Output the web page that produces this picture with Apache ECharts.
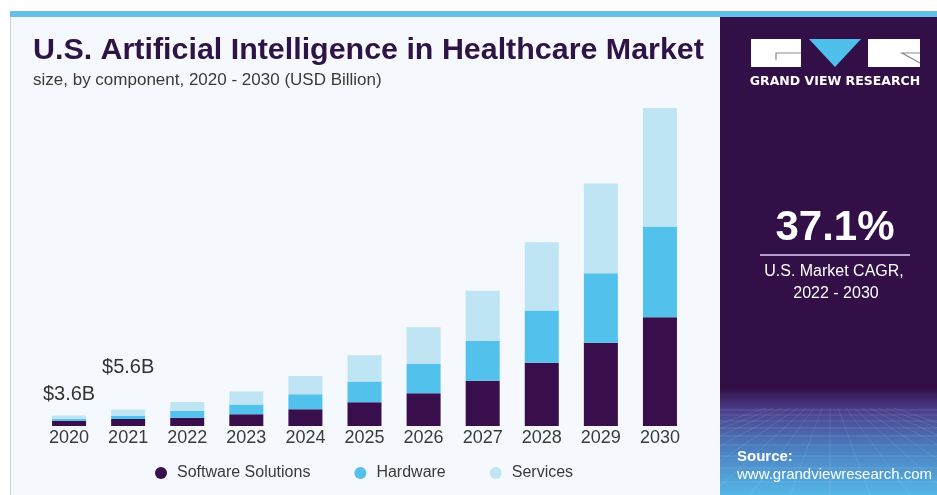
<!DOCTYPE html>
<html>
<head>
<meta charset="utf-8">
<script src="https://cdn.jsdelivr.net/npm/echarts@6/dist/echarts.min.js"></script>
<style>
html,body{margin:0;padding:0;background:#ffffff;}
#chart{width:937px;height:495px;}
</style>
</head>
<body>
<div id="chart"></div>
<script>
const years = ['2020','2021','2022','2023','2024','2025','2026','2027','2028','2029','2030'];
const software = [1.8, 2.4, 2.8, 4.0, 5.7, 8.1, 11.1, 15.4, 21.5, 28.3, 37.0];
const hardware = [0.7, 1.0, 2.4, 3.3, 5.1, 7.0, 10.0, 13.5, 17.8, 23.6, 30.8];
const services = [1.1, 2.2, 3.0, 4.4, 6.2, 9.0, 12.5, 17.1, 23.2, 30.6, 40.3];
const seriesNames = ['Software Solutions', 'Hardware', 'Services'];
const calloutYears = ['2020', '2021'];
const titleText = 'U.S. Artificial Intelligence in Healthcare Market';
const subtitleText = 'size, by component, 2020 - 2030 (USD Billion)';
const cagrText = '37.1%';
const cagrLabel = ['U.S. Market CAGR,', '2022 - 2030'];

const colors = ['#380e4c', '#52c1ec', '#bfe5f5'];
const FONT = '"Liberation Sans", Arial, sans-serif';

// fit title to width
const cv = document.createElement('canvas').getContext('2d');
cv.font = 'bold 30px "Liberation Sans"';
const titleSize = 30 * 671 / cv.measureText(titleText).width;

const totals = years.map((y, i) => software[i] + hardware[i] + services[i]);
const calloutDist = [11, 32];
const servicesData = services.map((v, i) => {
  const k = calloutYears.indexOf(years[i]);
  if (k < 0) return v;
  return {
    value: v,
    label: {
      show: true, position: 'top', distance: calloutDist[k],
      formatter: '$' + totals[i].toFixed(1) + 'B',
      fontSize: 20, color: '#333333', fontFamily: FONT
    }
  };
});

const chart = echarts.init(document.getElementById('chart'), null, {renderer: 'canvas'});

const graphics = [
  {type: 'rect', shape: {x: 10, y: 17, width: 710, height: 478}, style: {fill: '#f5f8fc'}, z: -10},
  {type: 'line', shape: {x1: 10.5, y1: 17, x2: 10.5, y2: 495}, style: {stroke: '#cfd4da', lineWidth: 1}, z: -9},
  {type: 'rect', shape: {x: 10, y: 11, width: 927, height: 6}, style: {fill: '#63c1e8'}, z: -9},
  {type: 'rect', shape: {x: 720, y: 17, width: 217, height: 478}, style: {fill: '#320f47'}, z: -9},
  {type: 'rect', shape: {x: 720, y: 388, width: 217, height: 107}, z: -8,
    style: {fill: new echarts.graphic.LinearGradient(0, 0, 0, 1, [
      {offset: 0, color: '#320f47'},
      {offset: 0.2, color: '#4a3d8a'},
      {offset: 0.55, color: '#4b7dbf'},
      {offset: 1, color: '#55b6e8'}
    ])}},
  // title texts
  {type: 'text', x: 33, y: 51, z: 5, style: {text: titleText, font: 'bold ' + titleSize.toFixed(2) + 'px ' + FONT, fill: '#2e1346', verticalAlign: 'middle'}},
  {type: 'text', x: 33, y: 80, z: 5, style: {text: subtitleText, font: '17px ' + FONT, fill: '#3a3a3a', verticalAlign: 'middle'}},
  // logo
  {type: 'rect', shape: {x: 751, y: 39, width: 50, height: 28}, style: {fill: '#ffffff'}, z: 5},
  {type: 'polyline', shape: {points: [[801, 53], [776, 53], [776, 60]]}, style: {stroke: '#8a8a8a', lineWidth: 1.2, fill: null}, z: 6},
  {type: 'polygon', shape: {points: [[809, 39], [861, 39], [835, 67]]}, style: {fill: '#4fc0ec'}, z: 5},
  {type: 'rect', shape: {x: 868, y: 39, width: 52, height: 28}, style: {fill: '#ffffff'}, z: 5},
  {type: 'polyline', shape: {points: [[920, 53], [902, 53], [920, 63]]}, style: {stroke: '#8a8a8a', lineWidth: 1.2, fill: null}, z: 6},
  {type: 'text', x: 835, y: 82, z: 5, style: {text: 'GRAND VIEW RESEARCH', font: 'bold 12.5px "DejaVu Sans", sans-serif', fill: '#ffffff', align: 'center', verticalAlign: 'middle'}},
  // CAGR block
  {type: 'text', x: 835, y: 228, z: 5, style: {text: cagrText, font: 'bold 42px ' + FONT, fill: '#ffffff', align: 'center', verticalAlign: 'middle'}},
  {type: 'line', shape: {x1: 760, y1: 255, x2: 910, y2: 255}, style: {stroke: '#b79ad2', lineWidth: 2}, z: 5},
  {type: 'text', x: 834, y: 272, z: 5, style: {text: cagrLabel[0], font: '16px ' + FONT, fill: '#ffffff', align: 'center', verticalAlign: 'middle'}},
  {type: 'text', x: 836, y: 294, z: 5, style: {text: cagrLabel[1], font: '16px ' + FONT, fill: '#ffffff', align: 'center', verticalAlign: 'middle'}},
  // source
  {type: 'text', x: 737, y: 457, z: 5, style: {text: 'Source:', font: 'bold 15px ' + FONT, fill: '#ffffff', verticalAlign: 'middle'}},
  {type: 'text', x: 737, y: 475, z: 5, style: {text: 'www.grandviewresearch.com', font: '15px ' + FONT, fill: '#ffffff', verticalAlign: 'middle'}}
];

// faint perspective grid texture in the source area
const hl = [410, 415, 421, 428, 436, 445, 456, 468, 482];
hl.forEach(y => graphics.push({type: 'line', shape: {x1: 720, y1: y, x2: 937, y2: y}, style: {stroke: 'rgba(255,255,255,0.13)', lineWidth: 1}, z: -7}));
for (let k = -8; k <= 8; k++) {
  graphics.push({type: 'line', shape: {x1: 830 + k * 8, y1: 408, x2: 830 + k * 40, y2: 495}, style: {stroke: 'rgba(255,255,255,0.10)', lineWidth: 1}, z: -7});
}

const option = {
  animation: false,
  backgroundColor: '#ffffff',
  color: colors,
  textStyle: {fontFamily: FONT},
  graphic: graphics,
  legend: {
    data: seriesNames.map(n => ({name: n, icon: 'circle'})),
    left: 155, top: 465, padding: 0,
    itemWidth: 12, itemHeight: 12, itemGap: 44,
    textStyle: {fontSize: 16, color: '#3a3a3a', fontFamily: FONT, padding: [0, 0, 0, 5]}
  },
  grid: {left: 39.5, right: 247.5, top: 73.1, bottom: 69, containLabel: false},
  xAxis: {
    type: 'category', data: years,
    axisLine: {show: false}, axisTick: {show: false},
    axisLabel: {fontSize: 18, color: '#3b3b3b', margin: 3, fontFamily: FONT}
  },
  yAxis: {type: 'value', min: 0, max: 120, show: false, splitLine: {show: false}},
  series: [
    {name: seriesNames[0], type: 'bar', stack: 'total', barWidth: 34, data: software},
    {name: seriesNames[1], type: 'bar', stack: 'total', barWidth: 34, data: hardware},
    {name: seriesNames[2], type: 'bar', stack: 'total', barWidth: 34, data: servicesData}
  ]
};
chart.setOption(option);
</script>
</body>
</html>
